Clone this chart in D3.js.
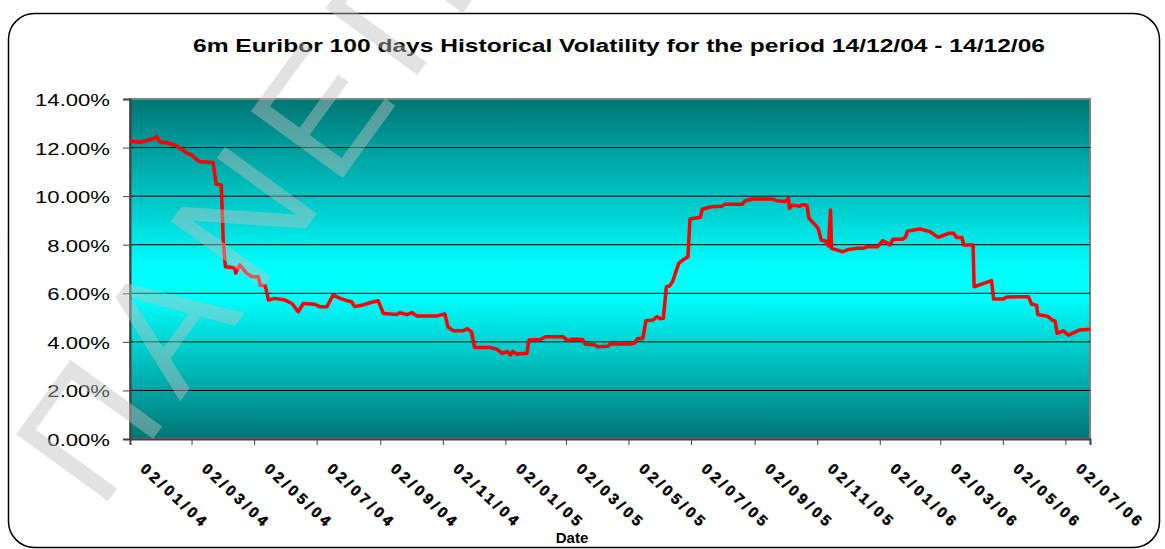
<!DOCTYPE html>
<html>
<head>
<meta charset="utf-8">
<script src="https://cdn.jsdelivr.net/npm/d3@7"></script>
<style>
	body { margin: 0; background: #fff; }
	svg { display: block; font-family: "Liberation Sans", Arial, sans-serif; }
</style>
</head>
<body>
<div id="chart"></div>
<script>

// values (volatility in %)
var dates = [
	"2004-01-02","2004-01-12","2004-01-19","2004-01-24","2004-01-28","2004-01-31","2004-02-07","2004-02-15",
	"2004-02-20","2004-02-27","2004-03-02","2004-03-07","2004-03-10","2004-03-23","2004-03-26","2004-03-31",
	"2004-04-02","2004-04-04","2004-04-13","2004-04-14","2004-04-16","2004-04-18","2004-04-25","2004-04-30",
	"2004-05-06","2004-05-08","2004-05-13","2004-05-16","2004-05-22","2004-06-01","2004-06-08","2004-06-14",
	"2004-06-19","2004-06-30","2004-07-05","2004-07-12","2004-07-18","2004-07-25","2004-08-01","2004-08-05",
	"2004-08-08","2004-08-16","2004-08-23","2004-08-31","2004-09-05","2004-09-18","2004-09-21","2004-09-28",
	"2004-10-03","2004-10-08","2004-10-27","2004-11-04","2004-11-07","2004-11-12","2004-11-22","2004-11-26",
	"2004-11-30","2004-12-03","2004-12-18","2004-12-25","2004-12-30","2005-01-04","2005-01-07","2005-01-09",
	"2005-01-13","2005-01-23","2005-01-25","2005-02-05","2005-02-10","2005-02-27","2005-03-04","2005-03-09",
	"2005-03-18","2005-03-21","2005-03-30","2005-04-02","2005-04-12","2005-04-14","2005-05-04","2005-05-08",
	"2005-05-11","2005-05-16","2005-05-19","2005-05-26","2005-05-30","2005-06-02","2005-06-05","2005-06-08",
	"2005-06-11","2005-06-14","2005-06-20","2005-06-24","2005-06-29","2005-07-01","2005-07-11","2005-07-13",
	"2005-07-21","2005-08-01","2005-08-04","2005-08-21","2005-08-24","2005-08-31","2005-09-20","2005-09-24",
	"2005-10-02","2005-10-05","2005-10-06","2005-10-09","2005-10-16","2005-10-19","2005-10-23","2005-10-25",
	"2005-10-29","2005-11-03","2005-11-06","2005-11-10","2005-11-13","2005-11-15","2005-11-16","2005-11-27",
	"2005-12-02","2005-12-11","2005-12-17","2005-12-21","2005-12-31","2006-01-05","2006-01-12","2006-01-15",
	"2006-01-24","2006-01-27","2006-01-29","2006-02-10","2006-02-20","2006-02-28","2006-03-10","2006-03-15",
	"2006-03-18","2006-03-23","2006-03-25","2006-04-03","2006-04-04","2006-04-21","2006-04-23","2006-05-02",
	"2006-05-06","2006-05-27","2006-05-30","2006-06-04","2006-06-05","2006-06-15","2006-06-19","2006-06-22",
	"2006-06-24","2006-06-30","2006-07-05","2006-07-16","2006-07-26"
];

var vols = [
	12.27,12.22,12.3,12.35,12.45,12.24,12.2,12.1,
	11.97,11.76,11.7,11.51,11.42,11.39,10.5,10.46,
	8.1,7.09,7.05,6.83,7.0,7.16,6.82,6.68,
	6.68,6.34,6.3,5.72,5.79,5.72,5.58,5.24,
	5.58,5.55,5.45,5.45,5.93,5.79,5.69,5.65,
	5.45,5.52,5.61,5.69,5.17,5.13,5.2,5.12,
	5.2,5.06,5.06,5.15,4.62,4.46,4.46,4.54,
	4.4,3.77,3.77,3.69,3.53,3.6,3.46,3.6,
	3.5,3.53,4.08,4.1,4.21,4.21,4.05,4.12,
	4.1,3.9,3.88,3.8,3.82,3.91,3.91,3.95,
	4.14,4.14,4.87,4.9,5.04,4.95,4.97,6.27,
	6.3,6.48,7.23,7.37,7.5,9.06,9.13,9.46,
	9.56,9.58,9.67,9.67,9.81,9.88,9.88,9.81,
	9.78,9.9,9.5,9.63,9.58,9.65,9.62,9.09,
	8.91,8.67,8.19,8.15,7.95,9.43,7.85,7.71,
	7.8,7.85,7.85,7.92,7.92,8.17,7.99,8.23,
	8.23,8.3,8.56,8.65,8.54,8.3,8.47,8.47,
	8.3,8.3,7.99,7.99,6.27,6.52,5.76,5.76,
	5.85,5.86,5.56,5.5,5.13,5.05,4.9,4.85,
	4.35,4.45,4.28,4.49,4.52
];

var tickLabels = ["02/01/04","02/03/04","02/05/04","02/07/04","02/09/04","02/11/04","02/01/05","02/03/05",
	"02/05/05","02/07/05","02/09/05","02/11/05","02/01/06","02/03/06","02/05/06","02/07/06"];
var yTicks = [0, 2, 4, 6, 8, 10, 12, 14];

var W = 1165, H = 549,
	plot = { left: 130, right: 1090, top: 99, bottom: 439 },
	parseISO = d3.timeParse("%Y-%m-%d"),
	parseLbl = d3.timeParse("%d/%m/%y"),
	fmtLbl = d3.timeFormat("%d/%m/%y");

var data = dates.map(function(d, i) { return { date: parseISO(d), v: vols[i] }; });

var x = d3.scaleTime()
	.domain([parseISO("2004-01-02"), parseISO("2006-07-26")])
	.range([plot.left, plot.right]);

var y = d3.scaleLinear()
	.domain([0, 14])
	.range([plot.bottom, plot.top]);

var svg = d3.select("#chart").append("svg")
	.attr("width", W).attr("height", H);

var defs = svg.append("defs");
var grad = defs.append("linearGradient")
	.attr("id", "bg").attr("x1", 0).attr("y1", 0).attr("x2", 0).attr("y2", 1);
[[0, "#007674"], [0.5, "#00ffff"], [0.58, "#00ffff"], [1, "#007674"]].forEach(function(s) {
	grad.append("stop").attr("offset", s[0]).attr("stop-color", s[1]);
});

// outer frame
svg.append("rect")
	.attr("x", 8.5).attr("y", 13.5)
	.attr("width", 1151).attr("height", 534)
	.attr("rx", 26).attr("ry", 26)
	.attr("fill", "#fff").attr("stroke", "#000").attr("stroke-width", 1.5);

svg.append("text")
	.attr("x", 619).attr("y", 52)
	.attr("text-anchor", "middle")
	.attr("textLength", 852).attr("lengthAdjust", "spacingAndGlyphs")
	.style("font-size", "18px").style("font-weight", "bold")
	.text("6m Euribor 100 days Historical Volatility for the period 14/12/04 - 14/12/06");

// plot area
svg.append("rect")
	.attr("x", plot.left).attr("y", plot.top)
	.attr("width", plot.right - plot.left).attr("height", plot.bottom - plot.top)
	.attr("fill", "url(#bg)")
	.attr("stroke", "#808080").attr("stroke-width", 2);

svg.append("g").selectAll("line")
	.data(yTicks.filter(function(t) { return t > 0 && t < 14; }))
	.enter().append("line")
	.attr("x1", plot.left).attr("x2", plot.right)
	.attr("y1", function(d) { return y(d); }).attr("y2", function(d) { return y(d); })
	.attr("stroke", "#000").attr("stroke-width", 1);

var yAxis = svg.append("g")
	.attr("transform", "translate(" + plot.left + ",0)")
	.call(d3.axisLeft(y).tickValues(yTicks).tickSize(7).tickPadding(0)
		.tickFormat(function(d) { return d.toFixed(2) + "%"; }));
yAxis.select(".domain").attr("stroke", "#404040").attr("stroke-width", 2);
yAxis.selectAll(".tick line").attr("stroke", "#404040");
yAxis.selectAll(".tick text")
	.attr("x", null).attr("dy", null)
	.attr("transform", "translate(-20,6.5) scale(1.3,1)")
	.attr("fill", "#000")
	.style("font-size", "17px").style("font-family", "'Liberation Sans', Arial, sans-serif");

var xAxis = svg.append("g")
	.attr("transform", "translate(0," + plot.bottom + ")")
	.call(d3.axisBottom(x)
		.tickValues(tickLabels.map(function(s) { return parseLbl(s); }))
		.tickSize(6).tickFormat(fmtLbl));
xAxis.select(".domain").attr("stroke", "#404040").attr("stroke-width", 2);
xAxis.selectAll(".tick line").attr("stroke", "#404040");
xAxis.selectAll(".tick text")
	.attr("y", null).attr("dy", null)
	.attr("text-anchor", "start")
	.attr("transform", "translate(9,31) rotate(43)")
	.attr("fill", "#000")
	.attr("stroke", "#000").attr("stroke-width", 0.5)
	.style("font-size", "15px").style("font-weight", "bold")
	.style("letter-spacing", "3.6px")
	.style("font-family", "'Liberation Sans', Arial, sans-serif");

svg.append("text")
	.attr("x", 572).attr("y", 543)
	.attr("text-anchor", "middle")
	.style("font-size", "15px").style("font-weight", "bold")
	.text("Date");

var line = d3.line()
	.x(function(d) { return x(d.date); })
	.y(function(d) { return y(d.v); });

svg.append("path")
	.datum(data)
	.attr("d", line)
	.attr("fill", "none")
	.attr("stroke", "#ff0000")
	.attr("stroke-width", 3.5)
	.attr("stroke-linejoin", "round");

// watermark across the left side
svg.append("text")
	.attr("transform", "translate(100,512) rotate(-54)")
	.attr("fill", "rgb(190,190,190)").attr("fill-opacity", 0.45)
	.style("font-size", "165px")
	.style("letter-spacing", "17px")
	.text("ΠΑΝΕΠ");

</script>
</body>
</html>
